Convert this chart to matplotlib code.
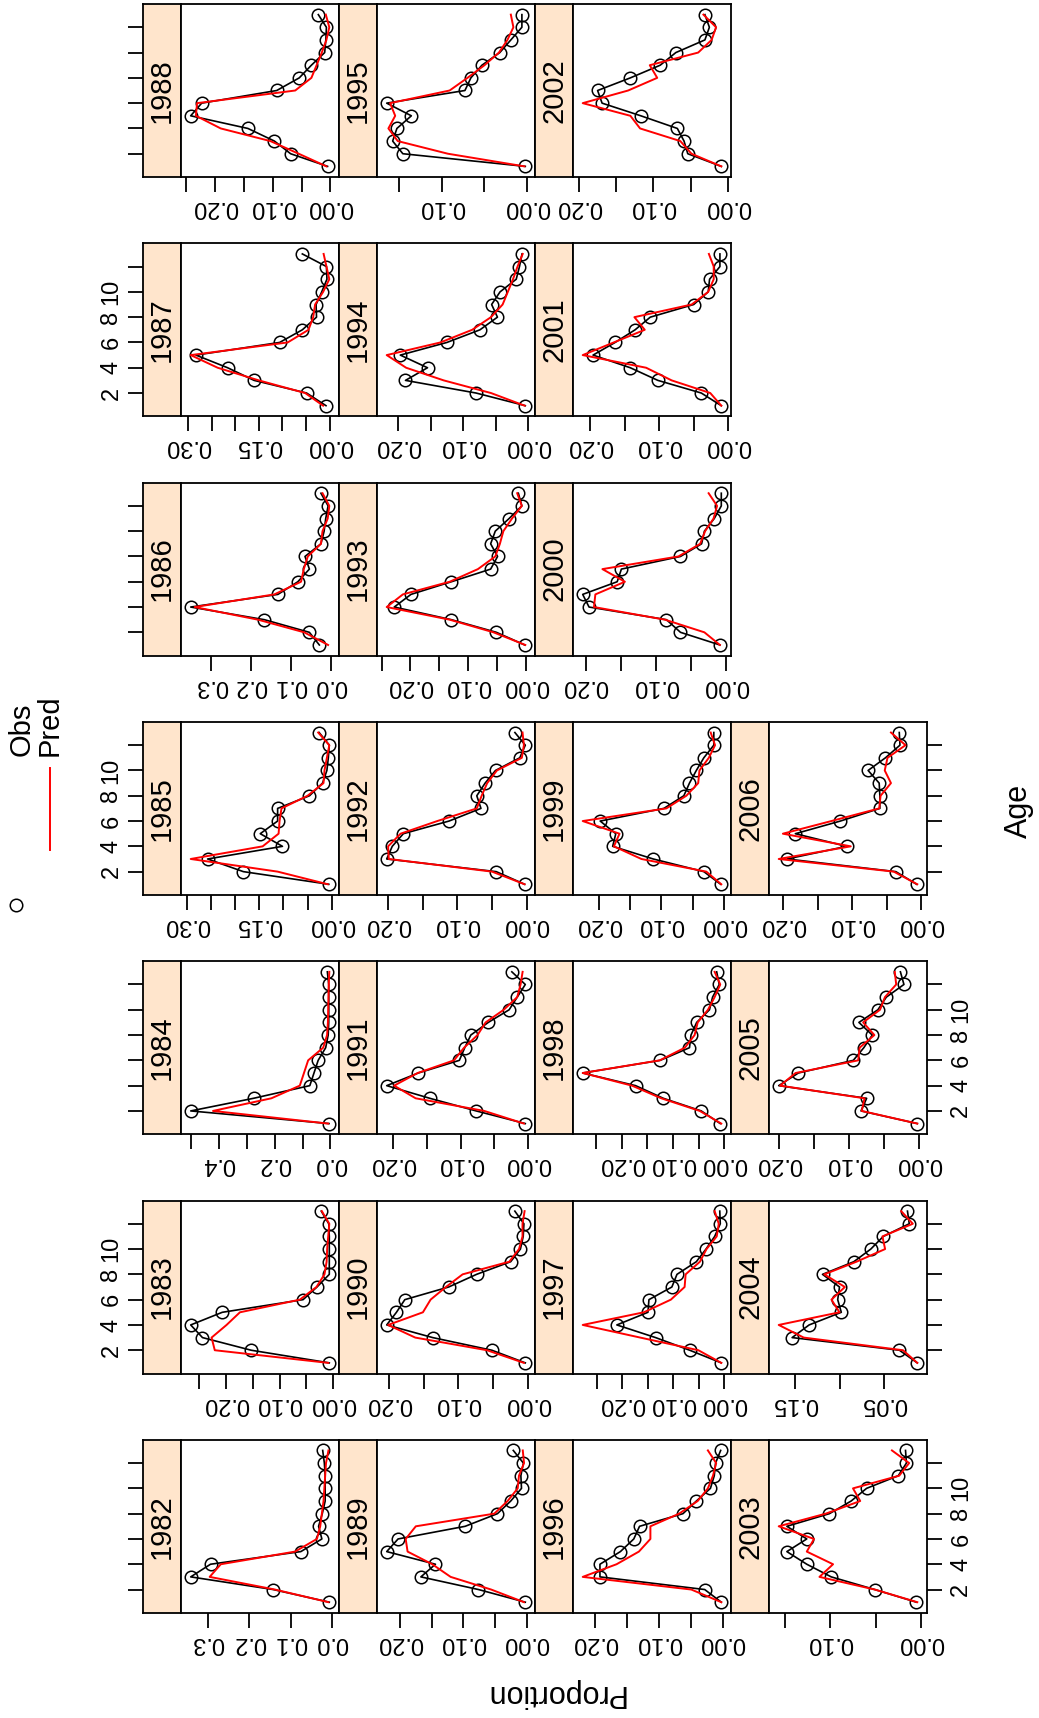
import matplotlib
matplotlib.use('Agg')
import matplotlib.pyplot as plt
import numpy as np

plt.rcParams['font.family'] = ['Liberation Sans', 'DejaVu Sans']

# === DADOS (proporção por idade, observado e previsto) ===
ages = list(range(1, 14))
years = list(range(1982, 2007))

obs_1982 = [0.006, 0.142, 0.342, 0.294, 0.075, 0.024, 0.032, 0.023, 0.016, 0.016, 0.016, 0.018, 0.022]
pred_1982 = [0.008, 0.138, 0.296, 0.269, 0.089, 0.036, 0.028, 0.024, 0.020, 0.018, 0.016, 0.014, 0.008]
obs_1983 = [0.007, 0.153, 0.244, 0.266, 0.207, 0.056, 0.030, 0.007, 0.007, 0.007, 0.007, 0.008, 0.022]
pred_1983 = [0.009, 0.221, 0.227, 0.199, 0.174, 0.062, 0.031, 0.016, 0.012, 0.011, 0.009, 0.007, 0.021]
obs_1984 = [0.005, 0.502, 0.276, 0.074, 0.059, 0.044, 0.017, 0.008, 0.006, 0.006, 0.006, 0.006, 0.011]
pred_1984 = [0.008, 0.422, 0.212, 0.110, 0.095, 0.080, 0.026, 0.012, 0.009, 0.008, 0.007, 0.006, 0.004]
obs_1985 = [0.006, 0.183, 0.257, 0.102, 0.148, 0.112, 0.112, 0.046, 0.019, 0.010, 0.007, 0.005, 0.026]
pred_1985 = [0.008, 0.112, 0.292, 0.143, 0.110, 0.108, 0.104, 0.050, 0.017, 0.015, 0.010, 0.005, 0.028]
obs_1986 = [0.029, 0.054, 0.167, 0.352, 0.133, 0.083, 0.054, 0.065, 0.025, 0.017, 0.013, 0.007, 0.025]
pred_1986 = [0.007, 0.067, 0.183, 0.342, 0.142, 0.075, 0.068, 0.058, 0.025, 0.021, 0.008, 0.004, 0.021]
obs_1987 = [0.008, 0.049, 0.160, 0.216, 0.283, 0.106, 0.058, 0.028, 0.029, 0.017, 0.006, 0.007, 0.058]
pred_1987 = [0.014, 0.052, 0.150, 0.237, 0.294, 0.089, 0.045, 0.035, 0.031, 0.014, 0.001, 0.007, 0.013]
obs_1988 = [0.005, 0.069, 0.097, 0.143, 0.242, 0.223, 0.093, 0.054, 0.033, 0.010, 0.008, 0.007, 0.021]
pred_1988 = [0.007, 0.055, 0.104, 0.190, 0.233, 0.231, 0.061, 0.033, 0.024, 0.015, 0.007, 0.002, 0.008]
obs_1989 = [0.002, 0.076, 0.167, 0.144, 0.221, 0.203, 0.097, 0.046, 0.025, 0.008, 0.009, 0.005, 0.021]
pred_1989 = [0.004, 0.056, 0.120, 0.149, 0.188, 0.191, 0.175, 0.051, 0.030, 0.014, 0.012, 0.004, 0.006]
obs_1990 = [0.004, 0.052, 0.137, 0.203, 0.189, 0.177, 0.114, 0.074, 0.025, 0.011, 0.007, 0.006, 0.019]
pred_1990 = [0.006, 0.059, 0.162, 0.201, 0.151, 0.140, 0.118, 0.094, 0.027, 0.013, 0.008, 0.008, 0.005]
obs_1991 = [0.004, 0.077, 0.146, 0.210, 0.163, 0.102, 0.094, 0.085, 0.059, 0.028, 0.016, 0.004, 0.024]
pred_1991 = [0.006, 0.065, 0.167, 0.199, 0.164, 0.110, 0.095, 0.075, 0.063, 0.036, 0.016, 0.011, 0.008]
obs_1992 = [0.003, 0.044, 0.202, 0.194, 0.178, 0.112, 0.066, 0.072, 0.060, 0.045, 0.010, 0.002, 0.017]
pred_1992 = [0.003, 0.050, 0.199, 0.200, 0.182, 0.129, 0.072, 0.065, 0.057, 0.043, 0.007, 0.004, 0.006]
obs_1993 = [0.002, 0.051, 0.129, 0.228, 0.199, 0.129, 0.061, 0.049, 0.061, 0.053, 0.029, 0.007, 0.013]
pred_1993 = [0.001, 0.056, 0.132, 0.241, 0.213, 0.132, 0.083, 0.053, 0.045, 0.039, 0.024, 0.007, 0.015]
obs_1994 = [0.004, 0.080, 0.189, 0.155, 0.197, 0.125, 0.074, 0.047, 0.056, 0.043, 0.018, 0.013, 0.009]
pred_1994 = [0.005, 0.057, 0.130, 0.188, 0.218, 0.135, 0.086, 0.057, 0.039, 0.031, 0.023, 0.016, 0.008]
obs_1995 = [0.002, 0.146, 0.158, 0.153, 0.136, 0.165, 0.073, 0.066, 0.053, 0.032, 0.019, 0.006, 0.006]
pred_1995 = [0.003, 0.093, 0.152, 0.163, 0.155, 0.161, 0.091, 0.070, 0.050, 0.033, 0.023, 0.016, 0.019]
obs_1996 = [0.002, 0.028, 0.192, 0.192, 0.160, 0.139, 0.130, 0.062, 0.041, 0.019, 0.013, 0.011, 0.003]
pred_1996 = [0.002, 0.049, 0.219, 0.166, 0.131, 0.113, 0.113, 0.068, 0.039, 0.023, 0.015, 0.010, 0.023]
obs_1997 = [0.006, 0.068, 0.135, 0.211, 0.150, 0.148, 0.103, 0.093, 0.055, 0.036, 0.019, 0.008, 0.009]
pred_1997 = [0.006, 0.051, 0.165, 0.278, 0.158, 0.105, 0.078, 0.076, 0.048, 0.035, 0.015, 0.011, 0.019]
obs_1998 = [0.008, 0.045, 0.119, 0.173, 0.276, 0.125, 0.068, 0.065, 0.054, 0.029, 0.023, 0.010, 0.015]
pred_1998 = [0.006, 0.048, 0.123, 0.180, 0.276, 0.126, 0.077, 0.058, 0.052, 0.032, 0.019, 0.008, 0.019]
obs_1999 = [0.005, 0.032, 0.113, 0.178, 0.173, 0.198, 0.096, 0.064, 0.055, 0.044, 0.032, 0.016, 0.016]
pred_1999 = [0.004, 0.028, 0.132, 0.176, 0.167, 0.226, 0.092, 0.060, 0.041, 0.039, 0.024, 0.014, 0.021]
obs_2000 = [0.009, 0.065, 0.085, 0.195, 0.204, 0.155, 0.149, 0.065, 0.035, 0.031, 0.017, 0.007, 0.007]
pred_2000 = [0.009, 0.031, 0.087, 0.188, 0.186, 0.144, 0.176, 0.068, 0.037, 0.030, 0.018, 0.013, 0.025]
obs_2001 = [0.010, 0.039, 0.102, 0.142, 0.196, 0.164, 0.135, 0.113, 0.050, 0.029, 0.027, 0.012, 0.012]
pred_2001 = [0.010, 0.026, 0.082, 0.119, 0.211, 0.166, 0.121, 0.136, 0.053, 0.029, 0.021, 0.021, 0.028]
obs_2002 = [0.009, 0.054, 0.059, 0.068, 0.117, 0.169, 0.175, 0.131, 0.091, 0.070, 0.031, 0.025, 0.031]
pred_2002 = [0.009, 0.049, 0.064, 0.118, 0.131, 0.195, 0.134, 0.095, 0.105, 0.040, 0.022, 0.016, 0.033]
obs_2003 = [0.005, 0.051, 0.099, 0.126, 0.148, 0.126, 0.148, 0.101, 0.077, 0.060, 0.025, 0.016, 0.017]
pred_2003 = [0.004, 0.051, 0.112, 0.097, 0.126, 0.118, 0.157, 0.105, 0.067, 0.075, 0.024, 0.013, 0.032]
obs_2004 = [0.013, 0.033, 0.153, 0.134, 0.098, 0.102, 0.100, 0.119, 0.084, 0.065, 0.051, 0.022, 0.024]
pred_2004 = [0.013, 0.029, 0.140, 0.168, 0.100, 0.109, 0.094, 0.117, 0.081, 0.049, 0.052, 0.018, 0.031]
obs_2005 = [0.003, 0.083, 0.075, 0.200, 0.172, 0.094, 0.079, 0.067, 0.086, 0.059, 0.047, 0.022, 0.027]
pred_2005 = [0.003, 0.082, 0.078, 0.198, 0.176, 0.087, 0.085, 0.064, 0.080, 0.056, 0.049, 0.033, 0.035]
obs_2006 = [0.007, 0.037, 0.194, 0.108, 0.182, 0.117, 0.060, 0.060, 0.061, 0.077, 0.052, 0.031, 0.032]
pred_2006 = [0.006, 0.040, 0.206, 0.102, 0.200, 0.130, 0.061, 0.059, 0.044, 0.053, 0.049, 0.023, 0.044]

# passo dos ticks de proporção e de quantos em quantos ticks vai rótulo
tick_step = [0.1, 0.05, 0.1, 0.05, 0.1, 0.05, 0.05] + [0.05] * 18
label_every = [1, 2, 2, 3, 1, 3, 2] + [2] * 18

age_ticks = [2, 4, 6, 8, 10, 12]
age_labels = ['2', '4', '6', '8', '10', '']

obs = {y: globals()['obs_%d' % y] for y in years}
pred = {y: globals()['pred_%d' % y] for y in years}

# === LAYOUT (pixels, figura 1039x1718) ===
W, H = 1039, 1718
COL0, COLW, STRIPW = 143, 196, 38
ROW0, ROWP, PANH = 4, 239.3, 173
PX = 72 / 100  # pixel -> ponto
LW_FRAME = 1.3


def box(x, y, w, h):
    return [x / W, 1 - (y + h) / H, w / W, h / H]


fig = plt.figure(figsize=(W / 100, H / 100), dpi=100)

ylo, yhi = 1 - 0.07 * 12, 13 + 0.07 * 12

for k, yr in enumerate(years):
    R, C = divmod(k, 7)
    c, r = R, 6 - C
    x0 = COL0 + c * COLW
    y0 = ROW0 + r * ROWP

    sax = fig.add_axes(box(x0, y0, STRIPW, PANH))
    pax = fig.add_axes(box(x0 + STRIPW, y0, COLW - STRIPW, PANH))

    # faixa com o ano
    sax.set_facecolor('#FFE5CC')
    sax.set_xticks([])
    sax.set_ylim(ylo, yhi)
    sax.text(0.5, 0.5, str(yr), rotation=90, ha='center', va='center',
             fontsize=21, transform=sax.transAxes)
    if c == 0:
        sax.set_yticks(age_ticks)
        sax.set_yticklabels(age_labels if C % 2 == 1 else [''] * 6)
        sax.tick_params(axis='y', direction='out', length=15 * PX, width=LW_FRAME,
                        labelsize=17, labelrotation=90, pad=4)
        for t in sax.get_yticklabels():
            t.set_va('center')
    else:
        sax.set_yticks([])

    o = obs[yr]
    p = pred[yr]
    lo = min(min(o), min(p))
    hi = max(max(o), max(p))
    pad = 0.07 * (hi - lo)
    pax.set_xlim(hi + pad, lo - pad)
    pax.set_ylim(ylo, yhi)

    pax.plot(o, ages, color='black', lw=1.2)
    pax.plot(o, ages, 'o', mfc='none', mec='black', ms=9, mew=1.1)
    pax.plot(p, ages, color='red', lw=1.4)

    step = tick_step[k]
    t0 = np.ceil((lo - pad) / step - 1e-9)
    t1 = np.floor((hi + pad) / step + 1e-9)
    ticks = [round(i * step, 3) + 0.0 for i in np.arange(t0, t1 + 1)]
    fmt = '%.1f' if step >= 0.1 else '%.2f'
    labs = [(fmt % abs(t)) if i % label_every[k] == 0 else ''
            for i, t in enumerate(ticks)]
    pax.set_xticks(ticks)
    pax.set_xticklabels(labs)
    pax.tick_params(axis='x', direction='out', length=15 * PX, width=LW_FRAME,
                    labelsize=17, labelrotation=180, pad=3)

    if c == 3:
        pax.yaxis.tick_right()
        pax.set_yticks(age_ticks)
        pax.set_yticklabels(age_labels if C % 2 == 0 else [''] * 6)
        pax.tick_params(axis='y', direction='out', length=15 * PX, width=LW_FRAME,
                        labelsize=17, labelrotation=90, pad=6)
        for t in pax.get_yticklabels():
            t.set_va('center')
    else:
        pax.set_yticks([])

    for a in (sax, pax):
        for s in a.spines.values():
            s.set_linewidth(LW_FRAME)

# rótulos dos eixos
fig.text(554 / W, 1 - 1693 / H, 'Proportion', rotation=180, ha='center',
         va='center', fontsize=22)
fig.text(1019 / W, 1 - 811 / H, 'Age', rotation=90, ha='center',
         va='center', fontsize=22)

# legenda (Obs / Pred)
lax = fig.add_axes([0, 0, 1, 1], facecolor='none')
lax.set_xlim(0, W)
lax.set_ylim(H, 0)
lax.axis('off')
lax.plot([16], [905], 'o', mfc='none', mec='black', ms=9, mew=1.1)
lax.plot([50, 50], [768, 850], color='red', lw=1.4)
lax.text(22, 756, 'Obs', rotation=90, ha='center', va='bottom', fontsize=21)
lax.text(50, 756, 'Pred', rotation=90, ha='center', va='bottom', fontsize=21)

fig.savefig('out.png', dpi=100)
